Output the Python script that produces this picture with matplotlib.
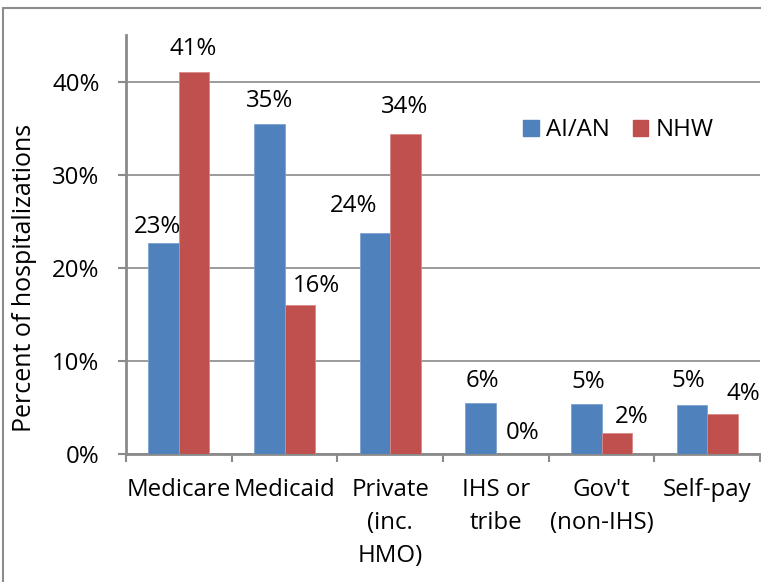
import matplotlib
matplotlib.use("Agg")
import matplotlib.pyplot as plt
from matplotlib.patches import Rectangle, Patch
import numpy as np

plt.rcParams['font.family'] = ['Open Sans', 'DejaVu Sans']

categories = ["Medicare", "Medicaid", "Private\n(inc.\nHMO)", "IHS or\ntribe",
              "Gov't\n(non-IHS)", "Self-pay"]
aian = [22.7, 35.4, 23.7, 5.52, 5.4, 5.3]
nhw = [41.0, 15.95, 34.4, 0.0, 2.25, 4.3]
series_names = ["AI/AN", "NHW"]
yticks = [0, 10, 20, 30, 40]

# manual label nudges (pixels) copied from the Excel layout
aian_dx = [-6, 0, -21, 2, 2, -4]
aian_dy = [16, 23, 27, 22, 22, 24]
nhw_dx = [-1, 17, -1, 11, 15, 21]
nhw_dy = [23, 19, 27, 21, 16, 20]

W, H = 761, 582
fig = plt.figure(figsize=(W / 100, H / 100), dpi=100)
ax = fig.add_axes([126 / W, (H - 454) / H, (760 - 126) / W, (454 - 35) / H])

blue = "#4F81BD"
red = "#C0504D"
grid_c = "#8a8a8a"
fs = 17.3

x = np.arange(len(categories)) + 0.5
bw = 0.29
b1 = ax.bar(x - bw / 2, aian, bw, color=blue, edgecolor="#7ea2d0", linewidth=0.6, zorder=3)
b2 = ax.bar(x + bw / 2, nhw, bw, color=red, edgecolor="#d98a88", linewidth=0.6, zorder=3)

for bars, vals, dxs, dys in [(b1, aian, aian_dx, aian_dy), (b2, nhw, nhw_dx, nhw_dy)]:
    for b, v, dx, dy in zip(bars, vals, dxs, dys):
        ax.annotate(f"{round(v + 1e-9):.0f}%", (b.get_x() + b.get_width() / 2, v),
                    xytext=(dx * 0.72, dy * 0.72), textcoords="offset points",
                    ha="center", va="center", fontsize=fs, zorder=4)

ax.set_xlim(0, len(categories))
ax.set_ylim(0, 45)
ax.set_yticks(yticks)
ax.set_yticklabels([f"{t}%" for t in yticks], fontsize=fs)
ax.yaxis.grid(True, color=grid_c, linewidth=1.2, zorder=0)
ax.set_axisbelow(True)

ax.set_xticks(np.arange(len(categories) + 1))
ax.set_xticklabels([])
ax.set_xticks(x, minor=True)
ax.set_xticklabels(categories, minor=True, fontsize=fs, linespacing=1.5, va="top")
ax.tick_params(axis="x", which="major", direction="out", length=6, width=1.5, color=grid_c)
ax.tick_params(axis="x", which="minor", length=0, pad=17)
ax.tick_params(axis="y", direction="out", length=6, width=1.5, color=grid_c, pad=13)

for s in ["top", "right"]:
    ax.spines[s].set_visible(False)
for s in ["left", "bottom"]:
    ax.spines[s].set_color(grid_c)
    ax.spines[s].set_linewidth(2)

fig.text(25 / W, 1 - 278 / H, "Percent of hospitalizations", rotation=90,
         ha="center", va="center", fontsize=18)

handles = [Patch(color=blue), Patch(color=red)]
fig.legend(handles, series_names, loc="center left", bbox_to_anchor=(523 / W, 1 - 130 / H),
           ncol=2, frameon=False, fontsize=fs, borderpad=0, borderaxespad=0,
           handlelength=0.65, handleheight=0.65, handletextpad=0.3, columnspacing=0.95)

fig.add_artist(Rectangle((3 / W, -0.1), 1.2, 1.1 - 8 / H, transform=fig.transFigure,
                         fill=False, edgecolor="#8c8c8c", linewidth=1.5))

fig.savefig("out.png", dpi=100)
